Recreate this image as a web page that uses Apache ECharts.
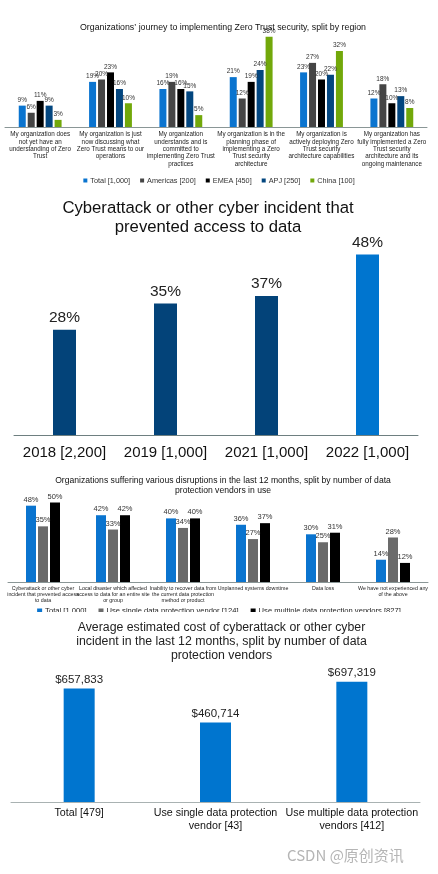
<!DOCTYPE html>
<html><head><meta charset="utf-8">
<script src="https://cdn.jsdelivr.net/npm/echarts@6/dist/echarts.min.js"></script>
<style>
html,body{margin:0;padding:0;background:#fff;width:438px;height:874px;overflow:hidden;}
.c{position:absolute;left:0;width:438px;}
</style></head><body>
<div id="c1" class="c" style="top:0;height:190px"></div>
<div id="c2" class="c" style="top:190px;height:270px"></div>
<div id="c3" class="c" style="top:460px;height:152px"></div>
<div id="c4" class="c" style="top:612px;height:262px"></div>
<script>
// ---- Chart 1 data ----
const zeroTrustCategories = [
  "My organization does\nnot yet have an\nunderstanding of Zero\nTrust",
  "My organization is just\nnow discussing what\nZero Trust means to our\noperations",
  "My organization\nunderstands and is\ncommitted to\nimplementing Zero Trust\npractices",
  "My organization is in the\nplanning phase of\nimplementing a Zero\nTrust security\narchitecture",
  "My organization is\nactively deploying Zero\nTrust security\narchitecture capabilities",
  "My organization has\nfully implemented a Zero\nTrust security\narchitecture and its\nongoing maintenance"
];
const regionNames = ["Total [1,000]", "Americas [200]", "EMEA [450]", "APJ [250]", "China [100]"];
const ztTotal    = [9, 19, 16, 21, 23, 12];
const ztAmericas = [6, 20, 19, 12, 27, 18];
const ztEMEA     = [11, 23, 16, 19, 20, 10];
const ztAPJ      = [9, 16, 15, 24, 22, 13];
const ztChina    = [3, 10, 5, 38, 32, 8];

// ---- Chart 2 data ----
const yearCategories = ["2018 [2,200]", "2019 [1,000]", "2021 [1,000]", "2022 [1,000]"];
const yearValues = [28, 35, 37, 48];

// ---- Chart 3 data ----
const disruptionCategories = [
  "Cyberattack or other cyber\nincident that prevented access\nto data",
  "Local disaster which affected\naccess to data for an entire site\nor group",
  "Inability to recover data from\nthe current data protection\nmethod or product",
  "Unplanned systems downtime",
  "Data loss",
  "We have not experienced any\nof the above"
];
const vendorNames = ["Total [1,000]", "Use single data protection vendor [124]", "Use multiple data protection vendors [827]"];
const disTotal    = [48, 42, 40, 36, 30, 14];
const disSingle   = [35, 33, 34, 27, 25, 28];
const disMultiple = [50, 42, 40, 37, 31, 12];

// ---- Chart 4 data ----
const costCategories = ["Total [479]", "Use single data protection\nvendor [43]", "Use multiple data protection\nvendors [412]"];
const costValues = [657833, 460714, 697319];

const FONT = "Liberation Sans, Arial, sans-serif";

// Chart 1
(function(){
  const ch = echarts.init(document.getElementById('c1'));
  const colors = ['#0A74CF', '#454545', '#000000', '#03467F', '#72A80A'];
  const vals = [ztTotal, ztAmericas, ztEMEA, ztAPJ, ztChina];
  ch.setOption({
    animation:false,
    textStyle:{fontFamily:FONT},
    title:{text:"Organizations’ journey to implementing Zero Trust security, split by region",
      left:218, textAlign:'center', top:18, textStyle:{fontSize:8.8, fontWeight:'normal', color:'#111', fontFamily:FONT}},
    legend:{data:regionNames, top:172, left:'center', itemWidth:4, itemHeight:4, itemGap:10,
      icon:'rect', textStyle:{fontSize:7.3, color:'#333', fontFamily:FONT, padding:[0,0,0,-2]}},
    grid:{left:5, right:11, top:32, bottom:63},
    xAxis:{type:'category', data:zeroTrustCategories,
      axisLine:{lineStyle:{color:'#8a9696', width:1}}, axisTick:{show:false},
      axisLabel:{interval:0, fontSize:6.3, lineHeight:7.3, color:'#222', margin:4, fontFamily:FONT}},
    yAxis:{type:'value', min:0, max:40, show:false},
    series: vals.map((d,i)=>({
      name:regionNames[i], type:'bar', data:d, barWidth:7, barGap:'28%',
      itemStyle:{color:colors[i]},
      label:{show:true, position:'top', distance:2, formatter:'{c}%', fontSize:6.5, color:'#333', fontFamily:FONT}
    }))
  });
})();

// Chart 2
(function(){
  const ch = echarts.init(document.getElementById('c2'));
  ch.setOption({
    animation:false,
    title:{text:"Cyberattack or other cyber incident that\nprevented access to data",
      left:203, textAlign:'center', top:4,
      textStyle:{fontSize:16.7, lineHeight:19, fontWeight:'normal', color:'#111', fontFamily:FONT}},
    grid:{left:14, right:20, top:57, bottom:24},
    xAxis:{type:'category', data:yearCategories,
      axisLine:{lineStyle:{color:'#6e7f80', width:1}}, axisTick:{show:false},
      axisLabel:{interval:0, fontSize:15, color:'#111', margin:10, fontFamily:FONT}},
    yAxis:{type:'value', min:0, max:50, show:false},
    series:[{type:'bar', data:yearValues.map((v,i)=>({value:v, itemStyle:{color: i===3 ? '#0075CF' : '#034379'}})),
      barWidth:23,
      label:{show:true, position:'top', distance:4, formatter:'{c}%', fontSize:15.5, color:'#222', fontFamily:FONT}}]
  });
})();

// Chart 3
(function(){
  const ch = echarts.init(document.getElementById('c3'));
  const colors = ['#0A74CF', '#6B6B6B', '#000000'];
  const vals = [disTotal, disSingle, disMultiple];
  ch.setOption({
    animation:false,
    title:{text:"Organizations suffering various disruptions in the last 12 months, split by number of data\nprotection vendors in use",
      left:218, textAlign:'center', top:11,
      textStyle:{fontSize:8.6, lineHeight:10, fontWeight:'normal', color:'#111', fontFamily:FONT}},
    legend:{data:vendorNames, top:142, left:'center', itemWidth:5, itemHeight:5, itemGap:12, icon:'rect',
      textStyle:{fontSize:7.6, color:'#222', fontFamily:FONT, padding:[0,0,0,-2]}},
    grid:{left:8, right:10, top:42.5, bottom:30},
    xAxis:{type:'category', data:disruptionCategories,
      axisLine:{lineStyle:{color:'#8a9696', width:1}}, axisTick:{show:false},
      axisLabel:{interval:0, fontSize:5.3, lineHeight:6.3, color:'#222', margin:3, fontFamily:FONT}},
    yAxis:{type:'value', min:0, max:50, show:false},
    series: vals.map((d,i)=>({
      name:vendorNames[i], type:'bar', data:d, barWidth:10, barGap:'20%',
      itemStyle:{color:colors[i]},
      label:{show:true, position:'top', distance:2, formatter:'{c}%', fontSize:7.5, color:'#333', fontFamily:FONT}
    }))
  });
})();

// Chart 4
(function(){
  const ch = echarts.init(document.getElementById('c4'));
  ch.setOption({
    animation:false,
    title:{text:"Average estimated cost of cyberattack or other cyber\nincident in the last 12 months, split by number of data\nprotection vendors",
      left:216.5, textAlign:'center', top:4,
      textStyle:{fontSize:12.3, lineHeight:14, fontWeight:'normal', color:'#222', fontFamily:FONT}},
    grid:{left:11, right:18, top:52, bottom:72},
    xAxis:{type:'category', data:costCategories,
      axisLine:{lineStyle:{color:'#a9b2b2', width:1}}, axisTick:{show:false},
      axisLabel:{interval:0, fontSize:10.7, lineHeight:13, color:'#111', margin:5, fontFamily:FONT}},
    yAxis:{type:'value', min:0, max:800000, show:false},
    series:[{type:'bar', data:costValues, barWidth:31, itemStyle:{color:'#0075CF'},
      label:{show:true, position:'top', distance:3, fontSize:11.5, color:'#222', fontFamily:FONT,
        formatter:p=>'$'+p.value.toLocaleString('en-US')}}],
    graphic:[{type:'text', left:287, top:236,
      style:{text:'CSDN @原创资讯', fontSize:15, fill:'#b5b5b5', fontFamily:'Noto Sans CJK SC, sans-serif'}}]
  });
})();
</script>
</body></html>
